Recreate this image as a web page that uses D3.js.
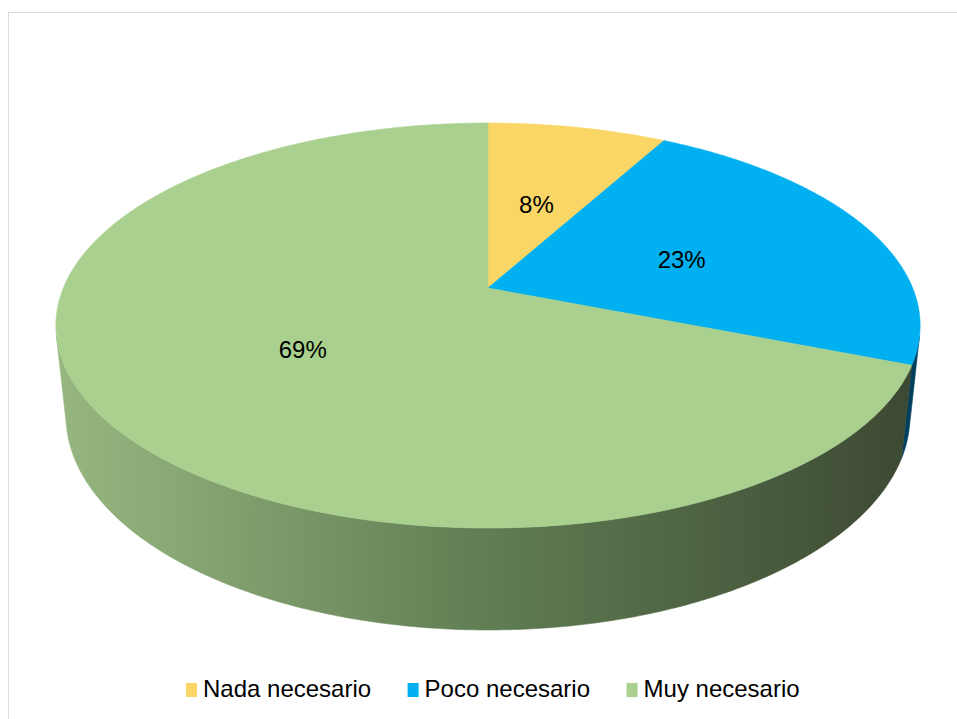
<!DOCTYPE html>
<html>
<head>
<meta charset="utf-8">
<script src="https://cdn.jsdelivr.net/npm/d3@7"></script>
<style>
  html, body { margin: 0; padding: 0; background: #ffffff; }
  svg { display: block; font-family: "Liberation Sans", Arial, sans-serif; }
</style>
</head>
<body>
<svg id="chart" width="957" height="719"></svg>
<script>
// Survey answers and their shares (percent)
const categories = ["Nada necesario", "Poco necesario", "Muy necesario"];
const values = [8, 23, 69];
const labels = ["8%", "23%", "69%"];
const topColors = ["#FAD666", "#00B0F0", "#A9D08E"];
// Side wall shading: light (left) -> mid -> dark (right)
const sideColors = [
  ["#c9a94f", "#a88a3c", "#7d672c"],
  ["#0a6a94", "#06557a", "#003f5c"],
  ["#97b780", "#607d53", "#3c4832"]
];

const W = 957, H = 719;
const svg = d3.select("#chart");

// Chart frame
svg.append("rect")
  .attr("x", 8.5).attr("y", 12.5)
  .attr("width", W + 10).attr("height", H + 10)
  .attr("fill", "#ffffff")
  .attr("stroke", "#d9dde3").attr("stroke-width", 1);

// Perspective camera looking down on a unit-radius disc
const cx = 488, cy = 288;
const tilt = Math.asin(0.4605);          // elevation of the camera
const dist = 4.79;                         // camera distance (in radii)
const focal = 2034;                        // focal length in px
const thick = 0.2414;                      // pie thickness (in radii)
const sinT = Math.sin(tilt), cosT = Math.cos(tilt);

// angle a: 0 at the far side, clockwise seen from above (same as d3.pie)
function project(a, r, z) {
  const X = r * Math.sin(a), Y = r * Math.cos(a);
  const depth = dist + Y * cosT - z * sinT;
  const up = Y * sinT + z * cosT;
  return [cx + focal * X / depth, cy - focal * up / depth];
}

const pie = d3.pie().sort(null).value(d => d)
  .startAngle(0).endAngle(2 * Math.PI);
const arcs = pie(values);

const line = d3.line().curve(d3.curveLinear);
const step = Math.PI / 360;

function arcPoints(a0, a1, r, z) {
  const n = Math.max(2, Math.ceil((a1 - a0) / step));
  return d3.range(n + 1).map(i => project(a0 + (a1 - a0) * i / n, r, z));
}

// Gradients for the side walls
const defs = svg.append("defs");
const xShade = d3.scaleLinear().domain([0, 1]).range([57, 920]);
sideColors.forEach((cols, i) => {
  const g = defs.append("linearGradient")
    .attr("id", "side" + i)
    .attr("gradientUnits", "userSpaceOnUse")
    .attr("x1", xShade(0)).attr("x2", xShade(1))
    .attr("y1", 0).attr("y2", 0);
  g.selectAll("stop").data(cols).join("stop")
    .attr("offset", (d, j) => j / (cols.length - 1))
    .attr("stop-color", d => d);
});

// Visible band of the cylinder wall (facing the camera)
const limit = Math.acos(-1 / (dist * cosT));
const visFrom = limit, visTo = 2 * Math.PI - limit;

const sides = svg.append("g");
arcs.forEach((d, i) => {
  const a0 = Math.max(d.startAngle, visFrom);
  const a1 = Math.min(d.endAngle, visTo);
  if (a1 <= a0) return;
  const topPts = arcPoints(a0, a1, 1, 0);
  const botPts = arcPoints(a0, a1, 1, -thick).reverse();
  sides.append("path")
    .attr("d", line(topPts.concat(botPts)) + "Z")
    .attr("fill", `url(#side${i})`)
    .attr("stroke", `url(#side${i})`)
    .attr("stroke-width", 0.6);
});

// Top faces
const tops = svg.append("g");
arcs.forEach((d, i) => {
  const pts = [project(0, 0, 0)].concat(arcPoints(d.startAngle, d.endAngle, 1, 0));
  tops.append("path")
    .attr("d", line(pts) + "Z")
    .attr("fill", topColors[i])
    .attr("stroke", topColors[i])
    .attr("stroke-width", 0.6);
});

// Percentage labels
const labelG = svg.append("g");
arcs.forEach((d, i) => {
  const mid = (d.startAngle + d.endAngle) / 2;
  const p = project(mid, 0.5, 0);
  labelG.append("text")
    .attr("x", p[0]).attr("y", p[1] + 12)
    .attr("text-anchor", "middle")
    .attr("font-size", 24)
    .attr("fill", "#000000")
    .text(labels[i]);
});

// Legend
const legend = svg.append("g");
let lx = 186;
const ly = 697;
categories.forEach((c, i) => {
  legend.append("rect")
    .attr("x", lx).attr("y", ly - 14)
    .attr("width", 11).attr("height", 14)
    .attr("fill", topColors[i]);
  const t = legend.append("text")
    .attr("x", lx + 17).attr("y", ly)
    .attr("font-size", 24)
    .attr("fill", "#000000")
    .text(c);
  lx += 17 + t.node().getComputedTextLength() + 36.5;
});
</script>
</body>
</html>
